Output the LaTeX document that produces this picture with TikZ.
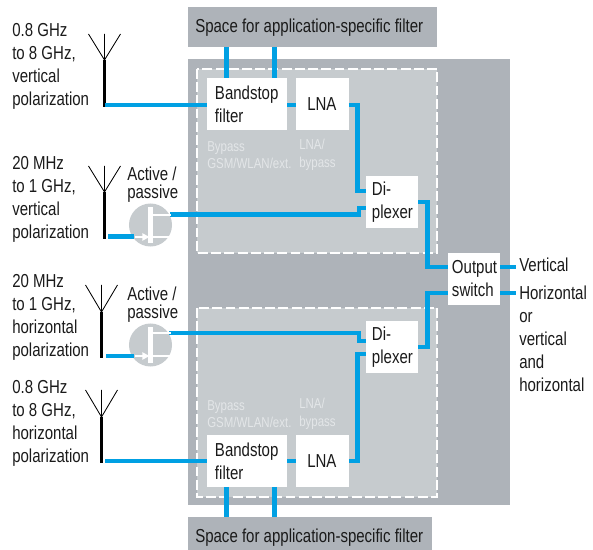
\documentclass[tikz,border=0pt]{standalone}
\usepackage{fontspec}
\setmainfont{Liberation Sans}[FakeStretch=0.8]
\usetikzlibrary{arrows.meta,positioning}
\definecolor{bluesig}{HTML}{00A0E3}
\definecolor{greydark}{HTML}{AEB3B9}
\definecolor{greylight}{HTML}{C6CBCE}
\definecolor{greytext}{HTML}{E3E6E8}
\definecolor{inktext}{HTML}{1A1A1A}
\tikzset{
  txt/.style={inner sep=0pt,anchor=west,align=left,text=inktext,font=\fontsize{13.35}{16.4}\selectfont},
  tight/.style={font=\fontsize{13.35}{12.8}\selectfont},
  small/.style={inner sep=0pt,anchor=west,align=left,text=greytext,font=\fontsize{10.2}{12.4}\selectfont},
  sig/.style={draw=bluesig,line width=3.5pt},
  mast/.style={draw=black,line width=2.2pt},
  arm/.style={draw=black,line width=0.6pt},
  bigbox/.style={draw=none,fill=greydark,inner sep=0pt},
  dashbox/.style={draw=white,fill=greylight,line width=1.1pt,dash pattern=on 7pt off 2.4pt},
  bsfbox/.style={fill=white,inner ysep=0pt,inner xsep=0.2cm,minimum width=2cm,minimum height=1.3cm,text width=1.6cm,align=left,text=inktext,font=\fontsize{13.35}{16.4}\selectfont},
  smallbox/.style={fill=white,inner ysep=0pt,minimum width=1.3cm,minimum height=1.3cm,align=left,text=inktext,font=\fontsize{13.35}{16.4}\selectfont},
  switchc/.style={circle,fill=greylight,minimum size=1.075cm,inner sep=0pt},
  swline/.style={draw=white,line width=1.2pt},
  swbar/.style={draw=white,line width=3.2pt},
}
\begin{document}
\begin{tikzpicture}[x=0.025cm,y=-0.025cm]
\useasboundingbox (0,0) rectangle (593,550);
% grey background
\fill[greydark] (188,59) rectangle (510,505);
\node[bigbox,minimum width=6.225cm,minimum height=1cm] (spaceT) at (312.5,27) {};
\node[bigbox,minimum width=6.1cm,minimum height=0.825cm] (spaceB) at (310,533.5) {};
\node[txt] at (195,27.5) {Space for application-specific filter};
\node[txt] at (195,537.5) {Space for application-specific filter};
\draw[dashbox] (197,69) rectangle (437,253);
\draw[dashbox] (197,308) rectangle (437,497);
% blocks
\node[bsfbox] (bsf1) at (247,104) {Bandstop filter};
\node[bsfbox] (bsf2) at (247,461) {Bandstop filter};
\node[smallbox,inner xsep=0.27cm,text width=0.76cm] (lna1) at (322.5,104) {LNA};
\node[smallbox,inner xsep=0.27cm,text width=0.76cm] (lna2) at (322.5,461) {LNA};
\node[smallbox,inner xsep=0.15cm,text width=1cm] (dip1) at (392,202) {Di-\\plexer};
\node[smallbox,inner xsep=0.15cm,text width=1cm] (dip2) at (392,347) {Di-\\plexer};
\node[smallbox,inner xsep=0.1cm,text width=1.1cm] (outsw) at (474,279) {Output\\switch};
\node[small] at (207,155) {Bypass\\GSM/WLAN/ext.};
\node[small] at (299,155) {LNA/\\bypass};
\node[small] at (207,414) {Bypass\\GSM/WLAN/ext.};
\node[small] at (299,414) {LNA/\\bypass};
% antennas
\coordinate (ant1) at (104.5,60);
\coordinate (ant2) at (104.5,192);
\coordinate (ant3) at (101.5,312);
\coordinate (ant4) at (101.5,417);
\draw[arm] (ant1)+(-16,-26) -- (ant1) -- +(16,-26) (ant1) -- +(0,-26);
\draw[arm] (ant2)+(-16,-26) -- (ant2) -- +(16,-26) (ant2) -- +(0,-26);
\draw[arm] (ant3)+(-16,-27) -- (ant3) -- +(16,-27) (ant3) -- +(0,-27);
\draw[arm] (ant4)+(-16,-27) -- (ant4) -- +(16,-27) (ant4) -- +(0,-27);
\draw[mast] (ant1) -- ++(0,47);
\draw[mast] (ant2) -- ++(0,47);
\draw[mast] (ant3) -- ++(0,46);
\draw[mast] (ant4) -- ++(0,46);
% switches
\node[switchc] (sw1) at (150.5,225) {};
\node[switchc] (sw2) at (150.5,345) {};
\coordinate (feed1) at (108,236.5);
\coordinate (feed2) at (106,356);
\coordinate (dip1a) at (366,191);
\coordinate (dip1b) at (366,208);
\coordinate (dip2a) at (366,341);
\coordinate (dip2b) at (366,354);
\coordinate (outa) at (448,267);
\coordinate (outb) at (448,293);
\coordinate (outc) at (500,267);
\coordinate (outd) at (500,293);
% signal paths
\draw[sig] (105,105) -- (bsf1.west |- 105,105);
\draw[sig] (bsf1.east |- 0,105) -- (lna1.west |- 0,105);
\draw[sig] (lna1.east |- 0,105) -- ++(9,0) |- (dip1a);
\draw[sig] (170,214.5) -- ++(189,0) |- (dip1b);
\draw[sig] (dip1.east) -- ++(9,0) |- (outa);
\draw[sig] (105,461) -- (bsf2.west);
\draw[sig] (bsf2.east) -- (lna2.west);
\draw[sig] (lna2.east) -- ++(9,0) |- (dip2b);
\draw[sig] (169,333) -- ++(190,0) |- (dip2a);
\draw[sig] (dip2.east) -- ++(9,0) |- (outb);
\draw[sig] (feed1) -- (134,236.5);
\draw[sig] (feed2) -- (134,356);
\draw[sig] (226.5,47) -- (226.5,78);
\draw[sig] (274.5,47) -- (274.5,78);
\draw[sig] (226.5,487) -- (226.5,517);
\draw[sig] (274.5,487) -- (274.5,517);
% switch symbols
\draw[swbar] (sw1)+(0,-18) -- +(0,18.5);
\draw[swline] (sw1)+(0,-10) -- +(20,-10);
\draw[swline] (sw1)+(0,12) -- +(20,12);
\draw[swline,-{Triangle[length=5pt,width=5pt]}] (sw1)+(-16,12) -- +(-1,12);
\draw[swbar] (sw2)+(0,-18) -- +(0,18.5);
\draw[swline] (sw2)+(0,-12) -- +(20,-12);
\draw[swline] (sw2)+(0,11) -- +(20,11);
\draw[swline,-{Triangle[length=5pt,width=5pt]}] (sw2)+(-16,11) -- +(-1,11);
% labels
\node[txt] at (12,66.5) {0.8 GHz\\to 8 GHz,\\vertical\\polarization};
\node[txt] at (12,199.5) {20 MHz\\to 1 GHz,\\vertical\\polarization};
\node[txt] at (12,317.5) {20 MHz\\to 1 GHz,\\horizontal\\polarization};
\node[txt] at (12,423.5) {0.8 GHz\\to 8 GHz,\\horizontal\\polarization};
\node[txt,tight] at (127,184.5) {Active /\\passive};
\node[txt,tight] at (127,304.5) {Active /\\passive};
\node[txt,inner xsep=0.075cm] (vert) at (516,264.5) {Vertical};
\node[txt,inner xsep=0.075cm] (horz) at (516,338.5) {Horizontal\\or\\vertical\\and\\horizontal};
\draw[sig] (outsw.east |- outc) -- (vert.west |- outc);
\draw[sig] (outsw.east |- outd) -- (horz.west |- outd);
\end{tikzpicture}
\end{document}
